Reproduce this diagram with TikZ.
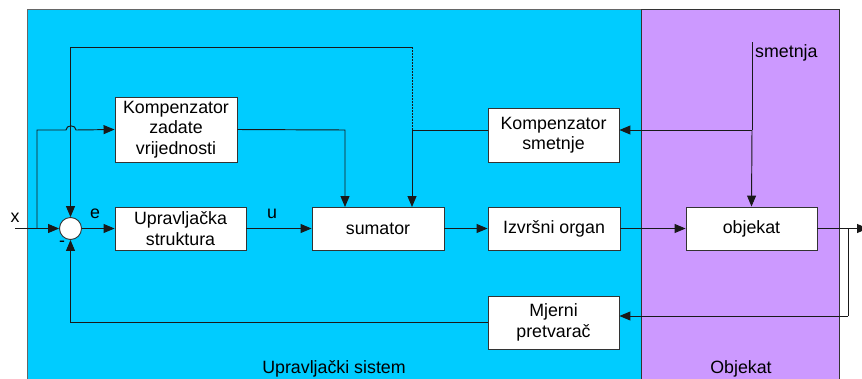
\documentclass[tikz,border=0pt]{standalone}
\usepackage{fontspec}
\setmainfont{Liberation Sans}
\usetikzlibrary{arrows.meta,calc}
\definecolor{sysblue}{HTML}{00CCFF}
\definecolor{objviolet}{HTML}{CC99FF}
\definecolor{frameline}{HTML}{333333}
\tikzset{
  txt/.style={font=\fontsize{17.8}{20.5}\selectfont, inner sep=0pt},
  blockbox/.style={draw=frameline, line width=0.9pt, fill=white, align=center,
    font=\fontsize{17.8}{20.5}\selectfont, inner sep=0pt},
  sig/.style={line width=0.95pt, draw=black!90},
  arr/.style={sig, -{Triangle[length=11pt,width=9pt]}},
}
\begin{document}
\begin{tikzpicture}[x=1pt,y=-1pt]
\useasboundingbox (0,0) rectangle (862,378);
\clip (0,0) rectangle (862,378);

% regions: control system and controlled object
\filldraw[fill=sysblue, draw=gray!80!black, line width=1pt] (27,9) rectangle (641,390);
\filldraw[fill=objviolet, draw=frameline, line width=1pt] (641,9) rectangle (839,390);
\draw[frameline, line width=1pt] (641,9) -- (641,390);

% blocks
\node[blockbox, minimum width=122pt, minimum height=65pt] (kzv) at (176,129.5) {Kompenzator\\zadate\\vrijednosti};
\node[blockbox, minimum width=131pt, minimum height=43pt] (ups) at (180.5,228.5) {Upravljačka\\struktura};
\node[blockbox, minimum width=132pt, minimum height=43pt] (sum) at (378,228.5) {sumator};
\node[blockbox, minimum width=132pt, minimum height=43pt] (izv) at (554,228.5) {Izvršni organ};
\node[blockbox, minimum width=131pt, minimum height=54pt] (ks) at (553.5,135) {Kompenzator\\smetnje};
\node[blockbox, minimum width=131pt, minimum height=43pt] (obj) at (751.5,228.5) {objekat};
\node[blockbox, minimum width=131pt, minimum height=53pt] (mp) at (553.5,322.5) {Mjerni\\pretvarač};
\node[circle, draw=frameline, line width=0.9pt, fill=white, minimum size=22pt, inner sep=0pt] (sc) at (70.5,228.5) {};

% junctions and free ends
\coordinate (xin) at (15,228.5);
\coordinate (bx) at (37,228.5);
\coordinate (bxup) at (37,130);
\coordinate (topR) at (412,47);
\coordinate (topL) at (70.5,47);
\coordinate (jks) at (412,130);
\coordinate (dist) at (752,42);
\coordinate (jdist) at (752,130);
\coordinate (yout) at (868,228.5);
\coordinate (jfb) at (848,228.5);
\coordinate (fbdown) at (848,316);
\coordinate (fbleft) at (70.5,322.5);

% input and forward path
\draw[arr] (xin) -- (sc.west);
\draw[arr] (sc.east) -- (ups.west);
\draw[arr] (ups.east) -- (sum.west);
\draw[arr] (sum.east) -- (izv.west);
\draw[arr] (izv.east) -- (obj.west);
\draw[arr] (obj.east) -- (yout);

% set-point compensation (hops over the loop line)
\draw[arr] (bx) -- (bxup) -- (66,130) .. controls (66,124.5) and (76,124.5) .. (76,130) -- (kzv.west);
\draw[arr] (kzv.east) -- (345,130) -- (345,207);

% disturbance path
\draw[sig] (dist) -- (jdist);
\draw[arr] (jdist) -- (obj.north);
\draw[arr] (jdist) -- (ks.east |- jdist);
\draw[sig] (ks.west |- jks) -- (jks);
\draw[arr] (jks) -- (412,207);

% upper loop back to the summing point
\draw[sig, dash pattern=on 2pt off 1pt] (jks) -- (topR);
\draw[arr] (topR) -- (topL) -- (sc.north);

% measurement feedback
\draw[sig] (jfb) -- (fbdown);
\draw[arr] (fbdown) -- (mp.east |- fbdown);
\draw[sig] (mp.west) -- (fbleft);
\draw[arr] (fbleft) -- (sc.south);

% labels
\node[txt] at (15,218) {x};
\node[txt] at (95,214) {e};
\node[txt] at (62,244) {-};
\node[txt] at (272,214) {u};
\node[txt, anchor=west] at (755,53) {smetnja};
\node[txt] at (334,369) {Upravljački sistem};
\node[txt] at (741,369) {Objekat};
\end{tikzpicture}
\end{document}
